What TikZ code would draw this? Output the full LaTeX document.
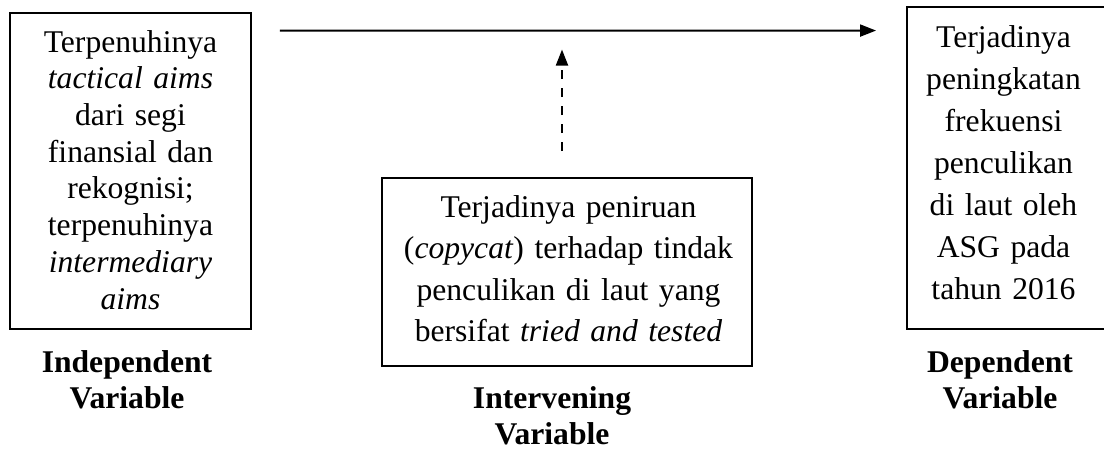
\documentclass[tikz,border=0pt]{standalone}
\usepackage{fontspec}
\setmainfont{Liberation Serif}
\usetikzlibrary{arrows.meta, positioning, calc}

\begin{document}
\begin{tikzpicture}[x=0.02cm, y=-0.02cm, line width=1.1pt,
    >={Triangle[length=0.32cm, width=0.24cm]},
    varbox/.style={draw, inner sep=0pt},
    boxtext/.style={align=center, inner sep=0pt, anchor=base,
                    font=\fontsize{18}{#1}\selectfont},
    varlabel/.style={align=center, inner sep=0pt, anchor=base, text width=4cm,
                     font=\fontsize{18}{20.5}\selectfont\bfseries}]
  \useasboundingbox (0,0) rectangle (1104,450);

  % Variable boxes, text hung from the top edge
  \node[varbox, minimum width=4.82cm, minimum height=6.32cm,
        label={[boxtext=20.9, text width=4.4cm, yshift=-0.8cm]north:{Terpenuhinya\\
          \textit{tactical aims}\\ dari segi\\ finansial dan\\ rekognisi;\\
          terpenuhinya\\ \textit{intermediary}\\ \textit{aims}}}] (indep) at (130.5,171) {};
  \node[varbox, minimum width=7.4cm, minimum height=3.76cm,
        label={[boxtext=23.7, text width=7cm, yshift=-0.8cm, xshift=0.03cm]north:{Terjadinya peniruan\\
          (\textit{copycat}) terhadap tindak\\ penculikan di laut yang\\
          bersifat \textit{tried and tested}}}] (interv) at (567,272) {};
  \node[varbox, minimum width=4.02cm, minimum height=6.44cm,
        label={[boxtext=23.9, text width=3.6cm, yshift=-0.82cm, xshift=-0.08cm]north:{Terjadinya\\
          peningkatan\\ frekuensi\\ penculikan\\ di laut oleh\\ ASG pada\\
          tahun 2016}}] (dep) at (1007.5,168) {};

  % Labels under the boxes
  \node[varlabel] (indeplbl) at ([xshift=-0.07cm, yshift=-0.86cm]indep.south) {Independent\\ Variable};
  \node[varlabel] (intervlbl) at ([xshift=-0.3cm, yshift=-0.83cm]interv.south) {Intervening\\ Variable};
  \node[varlabel] (deplbl) at ([xshift=-0.15cm, yshift=-0.86cm]dep.south) {Dependent\\ Variable};

  % Arrows
  \draw[->, shorten <=0.56cm, shorten >=0.6cm]
    ([yshift=-0.37cm]indep.north east) -- ([yshift=-0.49cm]dep.north west) coordinate[pos=0.474] (hit);
  \draw[->, dash pattern=on 0.18cm off 0.18cm, shorten <=0.52cm, shorten >=0.38cm]
    (interv.north -| hit) -- (hit);
\end{tikzpicture}
\end{document}
